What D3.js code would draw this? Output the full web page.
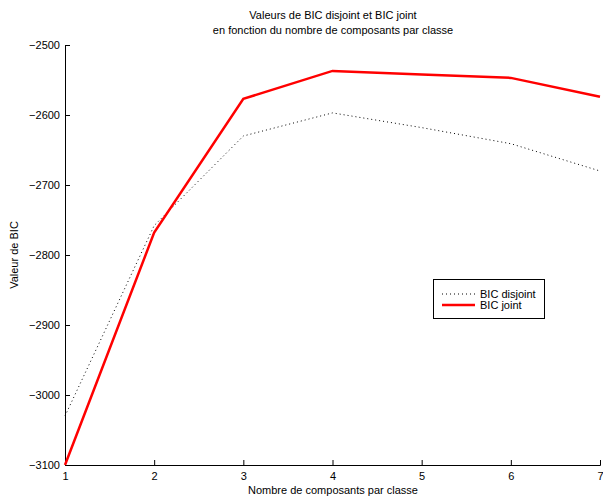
<!DOCTYPE html>
<html><head><meta charset="utf-8">
<script src="https://cdn.jsdelivr.net/npm/d3@7"></script>
<style>
body{margin:0;background:#fff;}
svg{font-family:"Liberation Sans",Arial,sans-serif;}
</style></head>
<body><svg id="c" width="603" height="501"></svg>
<script>
const components = [1,2,3,4,5,6,7];
const bicDisjoint = [-3030,-2758,-2630,-2597,-2618,-2641,-2680];
const bicJoint = [-3100,-2768,-2577,-2537,-2542,-2547,-2574];
const yTicks = [-3100,-3000,-2900,-2800,-2700,-2600,-2500];
const xTicks = [1,2,3,4,5,6,7];
const titleLines = ["Valeurs de BIC disjoint et BIC joint","en fonction du nombre de composants par classe"];
const seriesNames = ["BIC disjoint","BIC joint"];

const svg = d3.select("#c");
const m = {l:65, r:600, t:45, b:465};
const x = d3.scaleLinear().domain([1,7]).range([m.l,m.r]);
const y = d3.scaleLinear().domain([-3100,-2500]).range([m.b,m.t]);
const fmt = v => String(v).replace("-","\u2212");

const xa = svg.append("g").attr("transform",`translate(0,${m.b})`)
  .call(d3.axisBottom(x).tickValues(xTicks).tickSize(-5).tickPadding(7).tickFormat(d=>d));
const ya = svg.append("g").attr("transform",`translate(${m.l},0)`)
  .call(d3.axisLeft(y).tickValues(yTicks).tickSize(-5).tickPadding(5).tickFormat(fmt));
[xa,ya].forEach(a=>{
  a.selectAll("text").attr("font-size",11).attr("fill","#000").attr("font-family","Liberation Sans, Arial, sans-serif");
  a.select(".domain").attr("stroke","#000").attr("stroke-width",1);
  a.selectAll(".tick line").attr("stroke","#000");
});
ya.selectAll("text").attr("dy","0.35em");

const line = d3.line().x((d,i)=>x(components[i])).y(d=>y(d));
svg.append("path").datum(bicDisjoint).attr("d",line).attr("fill","none")
  .attr("stroke","#000").attr("stroke-width",1).attr("stroke-dasharray","1,3");
svg.append("path").datum(bicJoint).attr("d",line).attr("fill","none")
  .attr("stroke","#ff0000").attr("stroke-width",2.5);

svg.selectAll(".title").data(titleLines).enter().append("text")
  .attr("x",333).attr("y",(d,i)=>19+i*15).attr("text-anchor","middle")
  .attr("font-size",11).text(d=>d);
svg.append("text").attr("x",333).attr("y",494).attr("text-anchor","middle")
  .attr("font-size",11).text("Nombre de composants par classe");
svg.append("text").attr("transform","translate(18,255) rotate(-90)").attr("text-anchor","middle")
  .attr("font-size",11).text("Valeur de BIC");

const lg = svg.append("g");
lg.append("rect").attr("x",433.5).attr("y",279.5).attr("width",111).attr("height",39)
  .attr("fill","#fff").attr("stroke","#000");
seriesNames.forEach((n,i)=>{
  const yy = 294 + i*11;
  lg.append("line").attr("x1",442).attr("x2",475).attr("y1",yy).attr("y2",yy)
    .attr("stroke", i===0?"#000":"#ff0000").attr("stroke-width", i===0?1:2.5)
    .attr("stroke-dasharray", i===0?"1,3":null);
  lg.append("text").attr("x",480).attr("y",yy+4).attr("font-size",11).text(n);
});
</script></body></html>
